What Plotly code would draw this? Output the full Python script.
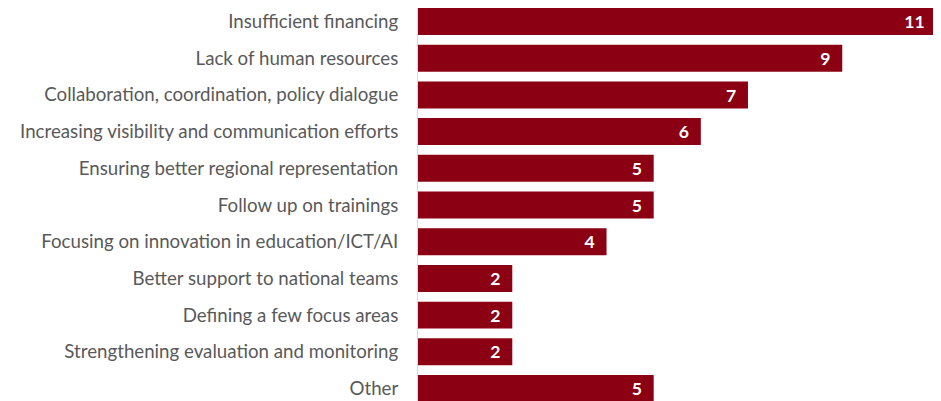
import plotly.graph_objects as go

# Data (top to bottom)
categories = [
    "Insufficient financing",
    "Lack of human resources",
    "Collaboration, coordination, policy dialogue",
    "Increasing visibility and communication efforts",
    "Ensuring better regional representation",
    "Follow up on trainings",
    "Focusing on innovation in education/ICT/AI",
    "Better support to national teams",
    "Defining a few focus areas",
    "Strengthening evaluation and monitoring",
    "Other",
]
counts = [11, 9, 7, 6, 5, 5, 4, 2, 2, 2, 5]

BAR_COLOR = "#8B0012"
LABEL_COLOR = "#595959"
FONT = "Lato, Open Sans, sans-serif"

fig = go.Figure(
    go.Bar(
        x=counts,
        y=categories,
        orientation="h",
        marker=dict(color=BAR_COLOR, line=dict(width=0)),
        texttemplate="%{x}\u2002",  # en space keeps the label off the bar end
        textposition="inside",
        insidetextanchor="end",
        textangle=0,
        textfont=dict(color="white", size=18.5, family=FONT, weight="bold"),
    )
)

# the page body keeps its default 8px margin, so the figure is 8px smaller
fig.update_layout(
    width=933,
    height=393,
    paper_bgcolor="white",
    plot_bgcolor="white",
    margin=dict(l=410, r=0, t=0, b=0),
    bargap=0.265,
    showlegend=False,
    font=dict(family=FONT, size=18.7, color=LABEL_COLOR),
)

fig.update_xaxes(
    range=[0, 11.095],
    visible=False,
    showgrid=False,
    zeroline=False,
)

fig.update_yaxes(
    type="category",
    range=[10.34, -0.3675],
    showline=True,
    linecolor="#D9D9D9",
    linewidth=1,
    showgrid=False,
    ticks="",
    ticklabelstandoff=15,
    tickfont=dict(size=18.7, color=LABEL_COLOR, family=FONT),
)

fig.write_html("out.html")
